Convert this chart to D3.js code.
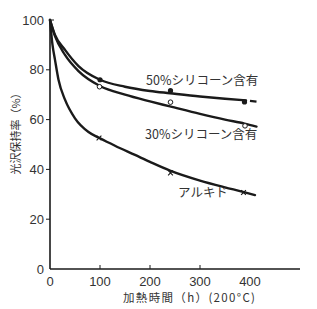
<!DOCTYPE html>
<html><head><meta charset="utf-8">
<script src="https://cdn.jsdelivr.net/npm/d3@7/dist/d3.min.js"></script>
<style>body{margin:0;background:#fff}svg{display:block}</style>
</head><body>
<script>
// ---- data ----
const xTicks = [0, 100, 200, 300, 400];
const yTicks = [0, 20, 40, 60, 80, 100];
const xLabel = "加熱時間（h）(200°C)";
const yLabel = "光沢保持率（%）";

const curve50 = [[0,100],[10,94],[30,88],[57,81.5],[100,76],[150,73.2],[200,71.5],[240,70.6],[300,69.3],[350,68.4],[392,67.7]];
const curve50dash = [[392,67.7],[413,67.2]];
const pts50 = [[100,76],[241,71.6],[389,67.1]];

const curve30 = [[0,100],[10,93.5],[30,86],[57,79.5],[100,73.5],[150,70],[200,67.3],[240,65.3],[300,62.3],[350,60],[389,58.4],[413,57.2]];
const pts30 = [[99,73.2],[241,67],[390,57.5]];

const curveAlk = [[0,100],[5,90],[10,84],[17,76],[30,68],[50,60.5],[77,55],[100,52.5],[130,49.5],[170,45.8],[200,43],[240,39.5],[300,35.5],[350,32.8],[386,31],[410,29.7]];
const ptsAlk = [[98,52.6],[241,38.6],[387,30.7]];

const seriesLabels = [
  {text:"50%シリコーン含有", x:192, y:75.8},
  {text:"30%シリコーン含有", x:190, y:53.8},
  {text:"アルキド", x:256, y:30.6}
];

// ---- chart ----
const W = 317, H = 309;
const svg = d3.select("body").append("svg").attr("width", W).attr("height", H);
const x = d3.scaleLinear().domain([0, 500]).range([50, 300]);
const y = d3.scaleLinear().domain([0, 100]).range([269, 20]);
const ink = "#1a1a1a";
const numFont = "'Liberation Sans', Arial, sans-serif";
const jpFont = "'Noto Sans CJK JP', sans-serif";

// axes lines
svg.append("line").attr("x1", x(0)).attr("x2", x(0)).attr("y1", y(100)).attr("y2", y(0))
  .attr("stroke", ink).attr("stroke-width", 1.6);
svg.append("line").attr("x1", x(0)).attr("x2", x(500)).attr("y1", y(0)).attr("y2", y(0))
  .attr("stroke", ink).attr("stroke-width", 1.4);

// y ticks
yTicks.forEach(v => {
  if (v > 0 && v < 100) {
    svg.append("line").attr("x1", x(0) - 4).attr("x2", x(0)).attr("y1", y(v)).attr("y2", y(v))
      .attr("stroke", ink).attr("stroke-width", 1);
  } else if (v === 100) {
    svg.append("line").attr("x1", x(0)).attr("x2", x(0) + 4).attr("y1", y(v)).attr("y2", y(v))
      .attr("stroke", ink).attr("stroke-width", 1);
  }
  svg.append("text").attr("x", 44).attr("y", y(v)).attr("dy", "0.36em")
    .attr("text-anchor", "end").attr("font-family", numFont).attr("font-size", 13)
    .attr("fill", "#333").text(v);
});
// x ticks
xTicks.forEach(v => {
  if (v > 0 && v < 400) {
    svg.append("line").attr("x1", x(v)).attr("x2", x(v)).attr("y1", y(0)).attr("y2", y(0) - 4)
      .attr("stroke", ink).attr("stroke-width", 1);
  }
  svg.append("text").attr("x", x(v)).attr("y", 286)
    .attr("text-anchor", "middle").attr("font-family", numFont).attr("font-size", 13)
    .attr("fill", "#333").text(v);
});

// axis titles
svg.append("text").attr("x", 189).attr("y", 302).attr("text-anchor", "middle")
  .attr("font-family", jpFont).attr("font-size", 11.5).attr("fill", "#333")
  .attr("textLength", 132).attr("lengthAdjust", "spacing").text(xLabel);
svg.append("text").attr("transform", "translate(20,131) rotate(-90)")
  .attr("text-anchor", "middle").attr("font-family", jpFont).attr("font-size", 11)
  .attr("fill", "#333").text(yLabel);

// curves
const line = d3.line().x(d => x(d[0])).y(d => y(d[1])).curve(d3.curveMonotoneX);
[curve50, curve30, curveAlk].forEach(c => {
  svg.append("path").attr("d", line(c)).attr("fill", "none")
    .attr("stroke", ink).attr("stroke-width", 2.4).attr("stroke-linecap", "round");
});
svg.append("path").attr("d", line(curve50dash)).attr("fill", "none")
  .attr("stroke", ink).attr("stroke-width", 2.2).attr("stroke-dasharray", "0 4 8 0");

// markers
pts50.forEach(p => svg.append("circle").attr("cx", x(p[0])).attr("cy", y(p[1])).attr("r", 2.6).attr("fill", ink));
pts30.forEach(p => svg.append("circle").attr("cx", x(p[0])).attr("cy", y(p[1])).attr("r", 2.3)
  .attr("fill", "#fff").attr("stroke", ink).attr("stroke-width", 1));
ptsAlk.forEach(p => {
  const cx = x(p[0]), cy = y(p[1]), s = 2.4;
  svg.append("path").attr("d", `M${cx-s},${cy-s}L${cx+s},${cy+s}M${cx-s},${cy+s}L${cx+s},${cy-s}`)
    .attr("stroke", ink).attr("stroke-width", 1.1).attr("fill", "none");
});

// series labels (positioned in data coordinates)
seriesLabels.forEach(l => {
  svg.append("text").attr("x", x(l.x)).attr("y", y(l.y)).attr("dy", "0.35em")
    .attr("text-anchor", "start").attr("font-family", jpFont).attr("font-size", 12.5)
    .attr("fill", "#333").text(l.text);
});
</script>
</body></html>
